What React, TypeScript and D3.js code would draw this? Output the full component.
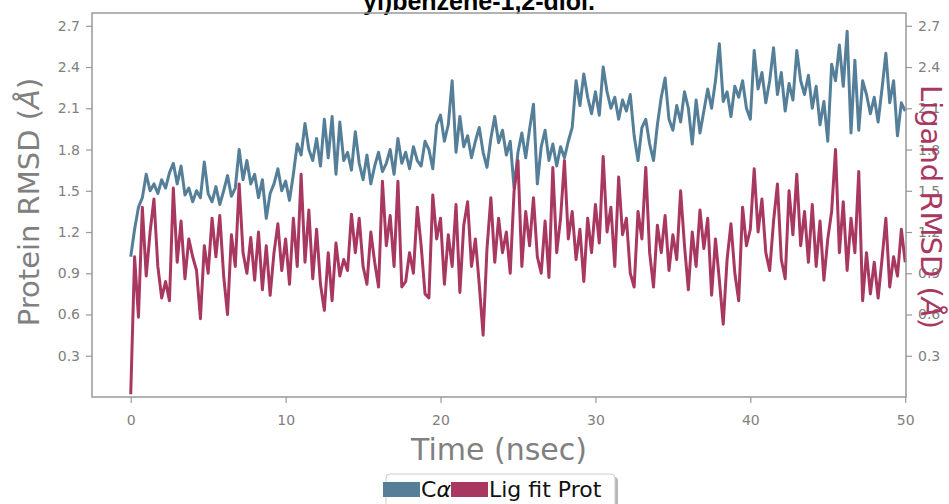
import React, { useRef, useEffect } from "react";
import * as d3 from "d3";

// sampled every 0.25 ns, 0 -> 50 ns
const timeStep = 0.25;

const caRmsd = [
  1.02, 1.22, 1.38, 1.45, 1.62, 1.5, 1.55, 1.48, 1.58, 1.52, 1.63, 1.7, 1.55, 1.68, 1.47, 1.52,
  1.42, 1.5, 1.45, 1.71, 1.48, 1.42, 1.53, 1.4, 1.5, 1.61, 1.46, 1.52, 1.8, 1.58, 1.72, 1.55,
  1.62, 1.45, 1.58, 1.3, 1.48, 1.55, 1.66, 1.5, 1.57, 1.43, 1.62, 1.84, 1.76, 1.99, 1.8, 1.72,
  1.88, 1.68, 2.02, 1.74, 2.04, 1.62, 2.0, 1.72, 1.78, 1.65, 1.93, 1.7, 1.58, 1.76, 1.55, 1.68,
  1.78, 1.64, 1.7, 1.8, 1.62, 1.88, 1.7, 1.78, 1.66, 1.82, 1.72, 1.68, 1.86, 1.8, 1.66, 1.98,
  2.05, 1.86, 1.98, 2.3, 1.78, 2.04, 1.82, 1.9, 1.74, 1.86, 1.96, 1.78, 1.67, 1.88, 2.04, 1.85,
  1.94, 1.76, 1.86, 1.52, 1.78, 1.92, 1.74, 1.95, 2.13, 1.55, 1.82, 1.94, 1.72, 1.84, 1.68, 1.82,
  1.74, 1.86, 1.96, 2.3, 2.12, 2.35, 2.18, 2.06, 2.22, 2.05, 2.4, 2.22, 2.1, 2.18, 2.02, 2.16,
  2.08, 2.2, 1.9, 1.72, 1.96, 2.02, 1.84, 1.72, 1.98, 2.18, 2.32, 2.02, 1.94, 2.12, 2.0, 2.22,
  2.1, 1.84, 2.16, 1.92, 2.08, 2.24, 2.1, 2.3, 2.57, 2.15, 2.22, 2.04, 2.26, 2.18, 2.3, 2.1,
  2.02, 2.52, 2.24, 2.36, 2.14, 2.3, 2.54, 2.2, 2.36, 2.08, 2.28, 2.16, 2.52, 2.3, 2.2, 2.34,
  2.1, 2.26, 1.98, 2.15, 1.86, 2.42, 2.3, 2.56, 2.26, 2.66, 1.92, 2.45, 1.94, 2.3, 2.2, 2.06,
  2.18, 2.0, 2.24, 2.5, 2.14, 2.3, 1.9, 2.14, 2.08,
];

const ligRmsd = [
  0.02, 1.02, 0.58, 1.38, 0.88, 1.2, 1.44, 0.95, 0.72, 0.84, 0.7, 1.52, 0.98, 1.28, 0.86, 1.15,
  1.02, 0.92, 0.57, 1.1, 0.9, 1.3, 1.02, 1.32, 0.88, 0.6, 1.18, 0.95, 1.55, 1.05, 0.9, 1.16,
  0.85, 1.2, 0.78, 1.1, 0.74, 1.05, 1.26, 0.92, 1.15, 0.82, 1.3, 0.95, 1.62, 0.98, 1.36, 0.86,
  1.22, 0.82, 0.63, 1.05, 0.7, 1.12, 0.88, 1.0, 0.92, 1.33, 1.05, 1.3, 0.95, 0.82, 1.2, 0.98,
  0.8, 1.57, 1.1, 1.32, 0.95, 1.57, 0.8, 0.84, 1.05, 0.9, 1.38, 1.1, 0.75, 0.72, 1.47, 1.15,
  1.3, 0.82, 1.18, 0.95, 1.4, 0.76, 1.25, 1.42, 0.95, 1.15, 0.82, 0.45, 1.08, 1.45, 0.98, 1.3,
  1.05, 1.2, 0.9, 1.5, 1.72, 0.95, 1.35, 1.1, 1.45, 1.02, 0.9, 1.28, 0.87, 1.67, 1.05, 1.3,
  1.72, 1.15, 1.35, 1.0, 1.22, 0.84, 1.3, 1.05, 1.4, 1.12, 1.75, 1.2, 1.38, 0.95, 1.6, 1.18,
  1.3, 0.9, 0.8, 1.35, 1.15, 1.67, 1.05, 0.8, 1.25, 1.05, 1.32, 0.92, 1.18, 1.0, 1.5, 1.1,
  0.78, 1.2, 0.95, 1.36, 1.08, 1.3, 0.74, 1.15, 0.85, 0.53, 1.0, 1.26, 0.9, 0.7, 1.38, 1.1,
  1.22, 1.66, 1.2, 1.44, 1.05, 0.92, 1.28, 1.55, 1.0, 0.86, 1.5, 1.18, 1.62, 1.1, 1.35, 0.98,
  1.4, 0.95, 1.28, 0.85, 1.15, 1.35, 1.8, 1.05, 1.42, 0.92, 1.3, 1.05, 1.64, 0.7, 1.05, 0.75,
  0.98, 0.72, 1.0, 1.3, 0.8, 1.02, 0.88, 1.22, 0.98,
];

const xTicks = [0, 10, 20, 30, 40, 50];
const yTicks = [0.3, 0.6, 0.9, 1.2, 1.5, 1.8, 2.1, 2.4, 2.7];
const legendLabels = ["Cα", "Lig fit Prot"];

const App = () => {
  const svgRef = useRef(null);

  useEffect(() => {
    const w = 949;
    const h = 504;
    const margin = { top: 13, right: 43, bottom: 107, left: 92 };
    const blue = "#557f99";
    const red = "#a8385f";
    const grey = "#808080";
    const font = "'DejaVu Sans', sans-serif";

    const svg = d3.select(svgRef.current).attr("width", w).attr("height", h);
    svg.selectAll("*").remove();

    const xScale = d3.scaleLinear().domain([-2.5, 50.05]).range([margin.left, w - margin.right]);
    const yScale = d3.scaleLinear().domain([0, 2.793]).range([h - margin.bottom, margin.top]);

    svg.append("rect").attr("width", w).attr("height", h).attr("fill", "#fff");

    // title, cut by the top edge as in the source figure
    svg
      .append("text")
      .attr("x", 479)
      .attr("y", 9.5)
      .attr("text-anchor", "middle")
      .attr("font-family", "'Liberation Sans', Arial, sans-serif")
      .attr("font-weight", "bold")
      .attr("font-size", 25)
      .text("yl)benzene-1,2-diol.");

    const line = d3
      .line<number>()
      .x((_, i) => xScale(i * timeStep))
      .y((d) => yScale(d));

    svg
      .append("path")
      .datum(caRmsd)
      .attr("d", line)
      .attr("fill", "none")
      .attr("stroke", blue)
      .attr("stroke-width", 3)
      .attr("stroke-linejoin", "round");

    svg
      .append("path")
      .datum(ligRmsd)
      .attr("d", line)
      .attr("fill", "none")
      .attr("stroke", red)
      .attr("stroke-width", 3)
      .attr("stroke-linejoin", "round");

    // axes
    const styleAxis = (g) => {
      g.select(".domain").remove();
      g.selectAll(".tick line").attr("stroke", "#999").attr("stroke-width", 1.2);
      g.selectAll(".tick text")
        .attr("fill", grey)
        .attr("font-size", 14)
        .attr("font-family", font);
    };

    svg
      .append("g")
      .attr("transform", `translate(0,${h - margin.bottom})`)
      .call(d3.axisBottom(xScale).tickValues(xTicks).tickSize(6).tickPadding(12))
      .call(styleAxis);

    svg
      .append("g")
      .attr("transform", `translate(${margin.left},0)`)
      .call(d3.axisLeft(yScale).tickValues(yTicks).tickFormat(d3.format(".1f")).tickSize(6).tickPadding(6))
      .call(styleAxis);

    svg
      .append("g")
      .attr("transform", `translate(${w - margin.right},0)`)
      .call(d3.axisRight(yScale).tickValues(yTicks).tickFormat(d3.format(".1f")).tickSize(6).tickPadding(6))
      .call(styleAxis);

    // frame
    svg
      .append("rect")
      .attr("x", margin.left)
      .attr("y", margin.top)
      .attr("width", w - margin.left - margin.right)
      .attr("height", h - margin.top - margin.bottom)
      .attr("fill", "none")
      .attr("stroke", "#999")
      .attr("stroke-width", 1.5);

    // axis labels
    svg
      .append("text")
      .attr("x", (margin.left + w - margin.right) / 2)
      .attr("y", 460)
      .attr("text-anchor", "middle")
      .attr("font-family", font)
      .attr("font-size", 30)
      .attr("fill", grey)
      .text("Time (nsec)");

    const yLabel = svg
      .append("text")
      .attr("transform", "translate(39,202) rotate(-90)")
      .attr("text-anchor", "middle")
      .attr("font-family", font)
      .attr("font-size", 29)
      .attr("fill", grey);
    yLabel.append("tspan").text("Protein RMSD (");
    yLabel.append("tspan").attr("font-style", "italic").text("Å");
    yLabel.append("tspan").text(")");

    const y2Label = svg
      .append("text")
      .attr("transform", "translate(921,207) rotate(90)")
      .attr("text-anchor", "middle")
      .attr("font-family", font)
      .attr("font-size", 29)
      .attr("fill", red);
    y2Label.append("tspan").text("Ligand RMSD (");
    y2Label.append("tspan").attr("font-style", "italic").text("Å");
    y2Label.append("tspan").text(")");

    // legend
    const lg = svg.append("g");
    lg.append("rect")
      .attr("x", 389)
      .attr("y", 477)
      .attr("width", 229)
      .attr("height", 40)
      .attr("rx", 4)
      .attr("fill", "#888")
      .attr("opacity", 0.6);
    lg.append("rect")
      .attr("x", 386)
      .attr("y", 474)
      .attr("width", 229)
      .attr("height", 40)
      .attr("rx", 4)
      .attr("fill", "#fff")
      .attr("stroke", "#ccc")
      .attr("stroke-width", 1);

    const items = [
      { label: legendLabels[0], color: blue, x: 383, tx: 421 },
      { label: legendLabels[1], color: red, x: 451, tx: 489 },
    ];
    items.forEach((it, i) => {
      lg.append("rect")
        .attr("x", it.x)
        .attr("y", 482)
        .attr("width", 37)
        .attr("height", 15)
        .attr("fill", it.color);
      const t = lg
        .append("text")
        .attr("x", it.tx)
        .attr("y", 497)
        .attr("font-family", font)
        .attr("font-size", 22)
        .attr("fill", "#111");
      if (i === 0) {
        t.append("tspan").text("C");
        t.append("tspan").attr("font-style", "italic").text("α");
      } else {
        t.text(it.label);
      }
    });
  }, []);

  return (
    <div style={{ position: "fixed", left: 0, top: 0 }}>
      <svg ref={svgRef}></svg>
    </div>
  );
};

export default App;
